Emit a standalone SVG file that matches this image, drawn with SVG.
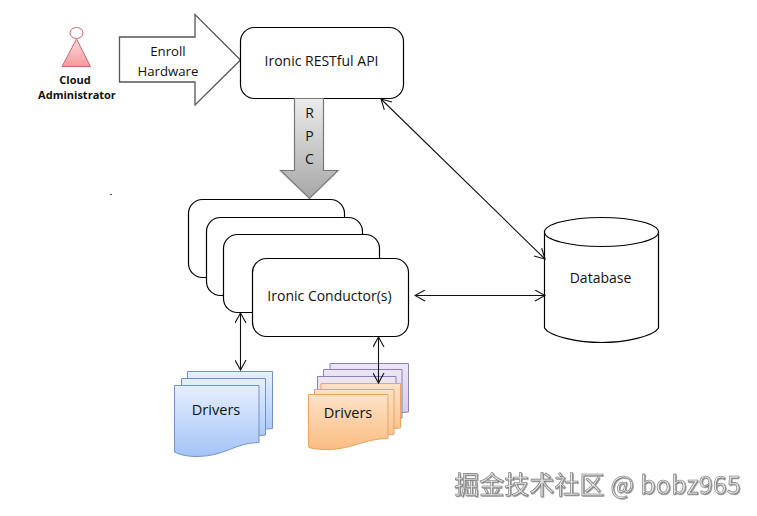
<svg xmlns="http://www.w3.org/2000/svg" width="757" height="516" viewBox="0 0 757 516">
<style>
text{font-family:"Open Sans","Noto Sans",sans-serif;font-size:14px;fill:#111;text-anchor:middle}
.b{fill:#fff;stroke:#000;stroke-width:1.2}
.c{fill:none;stroke:#111;stroke-width:1.1}
.bl{stroke:#6f93c4;stroke-width:1}
.or{stroke:#e8a565;stroke-width:1}
.pu{stroke:#8c80b0;stroke-width:1;fill:url(#p)}
.dr{font-size:14.6px}
.ad{font-size:11px;font-weight:700}
.en{font-size:13.200px}
</style>
<defs>
<linearGradient id="a" x1="0" y1="0" x2="0" y2="1"><stop offset="0" stop-color="#fcd9d9"/><stop offset="1" stop-color="#f79a9e"/></linearGradient>
<linearGradient id="g2" gradientUnits="userSpaceOnUse" x1="0" y1="98" x2="0" y2="199"><stop offset="0" stop-color="#ececec"/><stop offset="1" stop-color="#a6a6a6"/></linearGradient>
<linearGradient id="bg" x1="0" y1="0" x2="0" y2="1"><stop offset="0" stop-color="#e6efff"/><stop offset="1" stop-color="#a3c3f7"/></linearGradient>
<linearGradient id="o" x1="0" y1="0" x2="0" y2="1"><stop offset="0" stop-color="#fde3c8"/><stop offset="1" stop-color="#fbbd82"/></linearGradient>
<linearGradient id="p" x1="0" y1="0" x2="0" y2="1"><stop offset="0" stop-color="#ece6f6"/><stop offset="1" stop-color="#d5cae8"/></linearGradient>
<marker id="h" viewBox="0 0 12 12" refX="11" refY="6" markerWidth="12" markerHeight="12" markerUnits="userSpaceOnUse" orient="auto-start-reverse"><path d="M1 .5L11 6L1 11.500" fill="none" stroke="#111" stroke-width="1.100"/></marker>
<filter id="s" x="-5%" y="-20%" width="110%" height="140%"><feDropShadow dx=".8" dy=".8" stdDeviation=".4" flood-color="#555" flood-opacity=".7"/></filter>
</defs>
<rect width="757" height="516" fill="#fff"/>
<g id="admin">
<path d="M76.500 39L62 66.500H90.500Z" fill="url(#a)" stroke="#c9686c" stroke-width="1"/>
<ellipse cx="76.500" cy="33" rx="6.500" ry="5.500" fill="#fff" stroke="#c9686c" stroke-width="1"/>
<text class="ad" x="75" y="84">Cloud</text>
<text class="ad" x="77" y="99">Administrator</text>
</g>
<g id="enroll">
<path d="M119.500 37H195V14.500L240.500 60L195 105V82H119.500Z" fill="#fff" stroke="#555" stroke-width="1.300"/>
<text class="en" x="168" y="56">Enroll</text>
<text class="en" x="168" y="76">Hardware</text>
</g>
<g id="api">
<rect class="b" x="240.500" y="27.500" width="163" height="71" rx="14"/>
<text x="321.500" y="66">Ironic RESTful API</text>
</g>
<g id="rpc">
<path d="M294.500 98.500H323.500V170.500H338L309.500 198.500L280.500 170.500H294.500Z" fill="url(#g2)" stroke="#777" stroke-width="1.200"/>
<text x="309.500" y="118">R</text><text x="309.500" y="141">P</text><text x="309.500" y="164">C</text>
</g>
<circle cx="111" cy="194.500" r=".8" fill="#222"/>
<g id="conductors">
<rect class="b" x="188.500" y="199.500" width="156" height="78" rx="14"/>
<rect class="b" x="206.500" y="217.500" width="156" height="78" rx="14"/>
<rect class="b" x="223.500" y="234.500" width="156" height="78" rx="14"/>
<rect class="b" x="252.500" y="258.500" width="156" height="78" rx="14"/>
<text x="329.500" y="301">Ironic Conductor(s)</text>
</g>
<g id="database">
<path d="M544.500 231V328C550 337 580 342.500 601.500 342.500S653 337 658.500 328V231" fill="#fff" stroke="#000" stroke-width="1.200"/>
<ellipse cx="601.500" cy="232" rx="57" ry="14.500" fill="#fff" stroke="#000" stroke-width="1.200"/>
<text x="600.500" y="283">Database</text>
</g>
<g id="drivers-blue">
<path class="bl" fill="url(#bg)" d="M187.500 371.500H272.500V428.500C255 428.500 243 442 225 440C212 439 200 440 187.500 436Z"/>
<path class="bl" fill="url(#bg)" d="M181.500 378.500H265.500V435C250 435 236 449 218 447C205 446 193 447 181.500 442Z"/>
<path class="bl" fill="url(#bg)" d="M174.500 385.500H259V442.500C235 442.500 225 456.500 197 456.500C188 456.500 180 455 174.500 452Z"/>
<text class="dr" x="216" y="415">Drivers</text>
</g>
<g id="drivers-orange">
<path class="pu" d="M330 363.500H408.500V412L330 420Z"/>
<path class="pu" d="M323.500 369.500H402V418L323.500 425Z"/>
<path class="pu" d="M317.500 376.500H396V424L317.500 431Z"/>
<path class="or" fill="url(#o)" d="M321 383.500H400.500V428C385 428 375 437 355 437L321 436Z"/>
<path class="or" fill="url(#o)" d="M314.500 389.500H394V434.500C378 434.500 368 444 348 444L314.500 442Z"/>
<path class="or" fill="url(#o)" d="M308.500 394.500H388V438.500C365 438.500 352 449.500 328 449.500C320 449.500 312 449 308.500 447Z"/>
<text class="dr" x="348" y="418">Drivers</text>
</g>
<g id="connectors">
<line class="c" x1="381" y1="99" x2="545" y2="259" marker-start="url(#h)" marker-end="url(#h)"/>
<line class="c" x1="415" y1="295.500" x2="545" y2="295.500" marker-start="url(#h)" marker-end="url(#h)"/>
<line class="c" x1="240.500" y1="313" x2="240.500" y2="370" marker-start="url(#h)" marker-end="url(#h)"/>
<line class="c" x1="378.500" y1="337" x2="378.500" y2="383" marker-start="url(#h)" marker-end="url(#h)"/>
</g>
<text x="597.500" y="494" filter="url(#s)" style="font-family:'Noto Sans CJK SC','Noto Sans',sans-serif;font-size:24.800px;fill:#e6e6e6;stroke:#777;stroke-width:.6;letter-spacing:.3px">掘金技术社区 @ bobz965</text>
</svg>
